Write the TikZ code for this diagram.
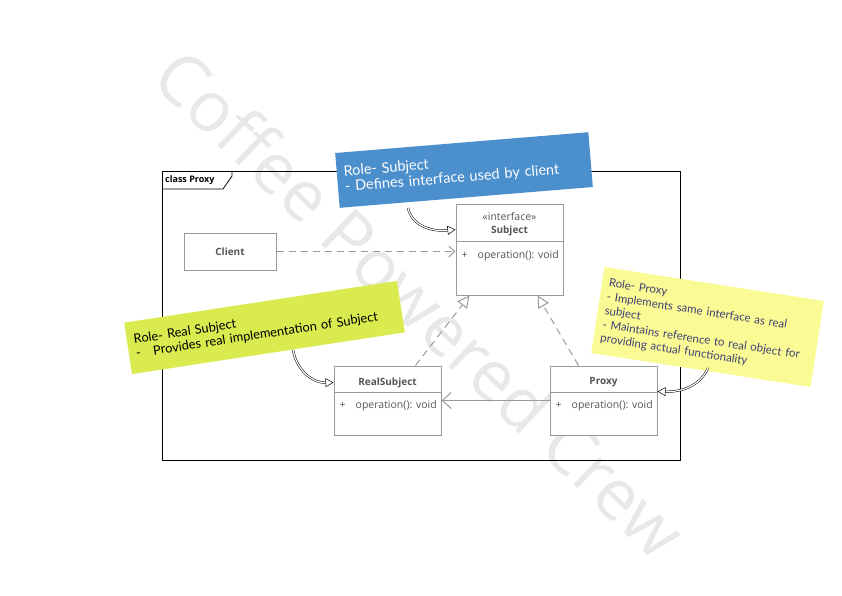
\documentclass[tikz,border=0pt]{standalone}
\usepackage{fontspec}
\setmainfont{Open Sans}
\newfontfamily\notefont{Lato}
\usetikzlibrary{arrows.meta}
\definecolor{boxgray}{HTML}{9A9A9A}
\definecolor{boxtext}{HTML}{555555}
\definecolor{wmgray}{HTML}{E8E8E8}
\definecolor{noteblue}{HTML}{4B8FCD}
\definecolor{notegreen}{HTML}{D9EB4F}
\definecolor{noteyellow}{HTML}{FBFB96}
\definecolor{noteink}{HTML}{3F3F72}

\begin{document}
\begin{tikzpicture}[x=1pt,y=-1pt,
    umlbox/.style={draw=boxgray,line width=1pt,fill=white,inner sep=0pt,minimum width=107pt},
    boxline/.style={draw=boxgray,line width=1pt},
    boxlabel/.style={text=boxtext,font=\fontsize{10.5}{12}\selectfont,inner sep=0pt},
    boxtitle/.style={boxlabel,font=\fontsize{10}{12}\selectfont\bfseries},
    note/.style={inner xsep=7pt,align=left},
    usesarrow/.style={draw=boxgray,line width=1pt,dash pattern=on 7pt off 5pt,-{Straight Barb[length=6pt,width=11pt]}},
    realizes/.style={draw=boxgray,line width=1pt,dash pattern=on 7pt off 5pt,-{Triangle[open,fill=white,length=12pt,width=12pt]}},
    assoc/.style={draw=boxgray,line width=1pt,-{Straight Barb[length=9pt,width=16pt]}},
    notelink/.style={draw=black,line width=0.5pt,double=white,double distance=1.2pt,-{Triangle[open,fill=white,length=8pt,width=9pt]}}]
\useasboundingbox (0,0) rectangle (842,595);

\node[text=wmgray,font=\fontsize{70}{70}\selectfont,rotate=-43.6] (watermark) at (421,303) {Coffee Powered Crew};

\draw[line width=0.8pt] (162,171) rectangle (680,460);
\draw[line width=0.8pt] (162,189) -- (223,189) -- (232,176) -- (232,171);
\node[anchor=west,inner sep=0pt,font=\fontsize{9}{10}\selectfont\bfseries] (framelabel) at (165,180) {class Proxy};

\node[umlbox,minimum width=92pt,minimum height=37pt] (client) at (230,251.5) {};
\node[boxtitle] at (client) {Client};

\node[umlbox,minimum height=91pt] (subject) at (509.5,249.5) {};
\node[boxlabel] at ([yshift=-13pt]subject.north) {«interface»};
\node[boxtitle] at ([yshift=-27pt]subject.north) {Subject};
\draw[boxline] ([yshift=-38pt]subject.north west) -- ([yshift=-38pt]subject.north east);
\node[boxlabel] at ([xshift=9pt,yshift=-52pt]subject.north west) {+};
\node[boxlabel,anchor=west] at ([xshift=22pt,yshift=-52pt]subject.north west) {operation(): void};

\node[umlbox,minimum height=69pt] (realsubject) at (387.5,400.5) {};
\node[boxtitle] at ([yshift=-17pt]realsubject.north) {RealSubject};
\draw[boxline] ([yshift=-27pt]realsubject.north west) -- ([yshift=-27pt]realsubject.north east);
\node[boxlabel] at ([xshift=9pt,yshift=-40pt]realsubject.north west) {+};
\node[boxlabel,anchor=west] at ([xshift=22pt,yshift=-40pt]realsubject.north west) {operation(): void};

\node[umlbox,minimum height=69pt] (proxy) at (603.5,400.5) {};
\node[boxtitle] at ([yshift=-17pt]proxy.north) {Proxy};
\draw[boxline] ([yshift=-27pt]proxy.north west) -- ([yshift=-27pt]proxy.north east);
\node[boxlabel] at ([xshift=9pt,yshift=-40pt]proxy.north west) {+};
\node[boxlabel,anchor=west] at ([xshift=22pt,yshift=-40pt]proxy.north west) {operation(): void};

\draw[usesarrow] (client.east) -- (client.east -| subject.west);
\draw[realizes] ([xshift=28pt]realsubject.north) -- ([xshift=-40pt]subject.south);
\draw[realizes] ([xshift=-25pt]proxy.north) -- ([xshift=28pt]subject.south);
\draw[assoc] (proxy.west) -- (realsubject.east);

\node[note,fill=noteblue,text=white,text width=240pt,minimum height=55pt,rotate=4.7,font=\notefont\fontsize{14.5}{15.5}\selectfont] (bluenote) at (464,170)
  {Role- Subject\\- Defines interface used by client};
\node[note,fill=notegreen,text=black,text width=262pt,minimum height=52pt,rotate=8.7,font=\notefont\fontsize{12.8}{14}\selectfont] (greennote) at (264.5,327.5)
  {Role- Real Subject\\-\quad Provides real implementation of Subject};
\node[note,fill=noteyellow,text=noteink,text width=208pt,minimum height=87pt,rotate=-8.8,font=\notefont\fontsize{11.5}{14}\selectfont] (yellownote) at (707.5,327)
  {Role- Proxy\\- Implements same interface as real\\subject\\- Maintains reference to real object for\\providing actual functionality};

\coordinate (bluetail) at (408,208);
\coordinate (greentail) at (293,350);
\coordinate (yellowtail) at (708,368);
\draw[notelink] (bluetail) .. controls (412,226) and (432,232) .. ([yshift=-26pt]subject.north west);
\draw[notelink] (greentail) .. controls (297,372) and (314,383) .. ([yshift=-17pt]realsubject.north west);
\draw[notelink] (yellowtail) .. controls (700,386) and (682,392) .. ([yshift=-26pt]proxy.north east);
\end{tikzpicture}
\end{document}
